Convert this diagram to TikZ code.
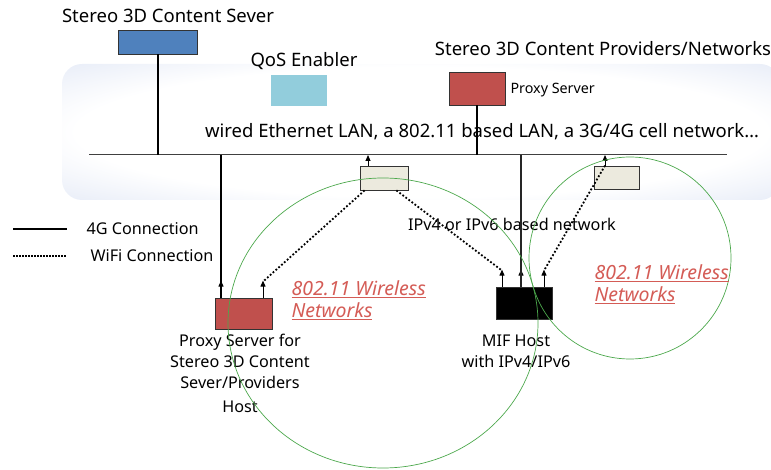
\documentclass[tikz,border=0pt]{standalone}
\usepackage{fontspec}
\setmainfont{Noto Sans}
\usetikzlibrary{arrows.meta}

\definecolor{srvblue}{RGB}{79,129,189}
\definecolor{qosblue}{RGB}{146,205,220}
\definecolor{proxyred}{RGB}{192,80,77}
\definecolor{apgray}{RGB}{236,234,222}
\definecolor{lanblue}{RGB}{208,218,240}
\definecolor{wlanred}{RGB}{212,92,86}
\definecolor{wlangreen}{RGB}{76,168,76}

\pgfdeclareradialshading{langlow}{\pgfpoint{0bp}{0bp}}{color(0bp)=(white); color(24bp)=(white); color(48bp)=(lanblue); color(72bp)=(lanblue)}

\begin{document}
\begin{tikzpicture}[x=1pt, y=-1pt, % coordenadas como pixeles, y hacia abajo
    box/.style={draw=black!80, line width=0.8pt, inner sep=0pt},
    big/.style={font=\fontsize{18.5}{22}\selectfont},
    mid/.style={font=\fontsize{16.2}{21}\selectfont},
    small/.style={font=\fontsize{14.3}{17}\selectfont},
    wlantext/.style={font=\fontsize{19.5}{22}\selectfont\itshape, text=wlanred, align=left, anchor=west},
    up/.style={-{Triangle[length=6pt,width=5pt]}, line width=1pt},
    wired/.style={line width=1.3pt},
    wifi/.style={line width=1.8pt, dash pattern=on 1.8pt off 2pt},
    cell/.style={draw=wlangreen, line width=0.7pt}]

    \useasboundingbox (0,0) rectangle (771,470);

    % Fondo de la red
    \path[shading=langlow, rounded corners=20pt] (62,64) rectangle (780,200);

    % Servidores arriba
    \node[box, fill=srvblue, minimum width=79pt, minimum height=24pt] (srv) at (157.5,42) {};
    \node[big] (srvlabel) at (168,16) {Stereo 3D Content Sever};
    \node[fill=qosblue, inner sep=0pt, minimum width=56pt, minimum height=31pt] (qos) at (299,90.5) {};
    \node[big] (qoslabel) at (304,61) {QoS Enabler};
    \node[box, fill=proxyred, minimum width=56pt, minimum height=33pt] (proxy) at (477,88.5) {};
    \node[small, anchor=west] (proxylabel) at (507,90) {Proxy Server};
    \node[big] (provlabel) at (603,49) {Stereo 3D Content Providers/Networks};
    \node[big] (lanlabel) at (482,132) {wired Ethernet LAN, a 802.11 based LAN, a 3G/4G cell network\ldots};

    % Linea LAN
    \coordinate (lanL) at (89,155);
    \coordinate (lanR) at (727,155);
    \draw[black!75, line width=1pt] (lanL) -- (lanR);
    \draw[line width=2pt] (srv.south) -- (srv.south |- lanL);
    \draw[line width=2pt] (proxy.south) -- (proxy.south |- lanL);

    % Puntos de acceso
    \node[box, fill=apgray, minimum width=48pt, minimum height=24pt] (ap1) at (384,178) {};
    \node[box, fill=apgray, minimum width=45pt, minimum height=23pt] (ap2) at (616.5,177.5) {};
    \draw[up] ([xshift=-16pt]ap1.north) -- ([xshift=-16pt]ap1.north |- lanL);
    \draw[up] ([xshift=-11.5pt]ap2.north) -- ([xshift=-11.5pt]ap2.north |- lanL);
    \node[mid] (iplabel) at (512,224) {IPv4 or IPv6 based network};

    % Hosts
    \node[box, fill=proxyred, minimum width=57pt, minimum height=31pt] (phost) at (243.5,313.5) {};
    \node[mid, align=center, anchor=north] (phostlabel) at (240,331) {Proxy Server for\\Stereo 3D Content\\Sever/Providers\\[3pt]Host};
    \node[box, fill=black, minimum width=56pt, minimum height=32pt] (mif) at (524,303) {};
    \node[mid, align=center, anchor=north] (miflabel) at (516,331) {MIF Host\\with IPv4/IPv6};

    % Antenas de los hosts
    \coordinate (ph1) at ([xshift=-22.5pt]phost.north);
    \coordinate (ph2) at ([xshift=19.5pt]phost.north);
    \coordinate (mf1) at ([xshift=-22pt]mif.north);
    \coordinate (mf2) at ([xshift=-3pt]mif.north);
    \coordinate (mf3) at ([xshift=20pt]mif.north);
    \foreach \a in {ph1,ph2,mf1,mf2,mf3}
        \draw[up] (\a) -- ++(0,-17);

    % Conexiones 4G
    \draw[wired] (ph1 |- lanL) -- (ph1);
    \draw[wired, black!85] (mf2 |- lanL) -- (mf2);

    % Conexiones WiFi
    \draw[wifi] ([xshift=5pt]ap1.south west) -- ([yshift=16pt]ph2);
    \draw[wifi] ([xshift=-12pt]ap1.south east) -- ([yshift=16pt]mf1);
    \draw[wifi] ([xshift=-11.5pt]ap2.north) -- ([yshift=16pt]mf3);

    % Celdas 802.11
    \draw[cell] (383,323) ellipse [x radius=155, y radius=145];
    \draw[cell] (630,258) circle (101);
    \node[wlantext] (wlan1) at (288,300) {\underline{802.11 Wireless}\\\underline{Networks}};
    \node[wlantext] (wlan2) at (591,284) {\underline{802.11 Wireless}\\\underline{Networks}};

    % Leyenda
    \coordinate (leg1a) at (13,229); \coordinate (leg1b) at (67,229);
    \coordinate (leg2a) at (13,256); \coordinate (leg2b) at (67,256);
    \draw[line width=1.2pt] (leg1a) -- (leg1b);
    \draw[line width=1.5pt, dash pattern=on 1.5pt off 1.5pt] (leg2a) -- (leg2b);
    \node[mid, anchor=west] (leg1) at (83,229) {4G Connection};
    \node[mid, anchor=west] (leg2) at (87,256) {WiFi Connection};

\end{tikzpicture}
\end{document}
